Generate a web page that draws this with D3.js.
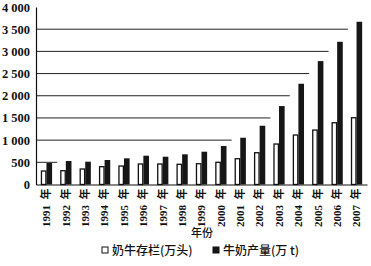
<!DOCTYPE html>
<html>
<head>
<meta charset="utf-8">
<script src="https://cdn.jsdelivr.net/npm/d3@7"></script>
<style>
  body { margin: 0; background: #fff; }
  text { fill: #111; }
</style>
</head>
<body>
<div id="container"></div>
<script>
let w = 371;
let h = 266;

// data
let years = ['1991', '1992', '1993', '1994', '1995', '1996', '1997', '1998', '1999',
             '2000', '2001', '2002', '2003', '2004', '2005', '2006', '2007'];
let cows = [304, 311, 349, 401, 416, 462, 462, 455, 468, 500, 581, 716, 912, 1115, 1227, 1392, 1505];
let milk = [484, 529, 514, 552, 590, 649, 626, 680, 739, 867, 1054, 1324, 1768, 2270, 2781, 3216, 3667];
let yTicks = [0, 500, 1000, 1500, 2000, 2500, 3000, 3500, 4000];
let tickLabels = ['0', '500', '1 000', '1 500', '2 000', '2 500', '3 000', '3 500', '4 000'];
let seriesNames = ['奶牛存栏(万头)', '牛奶产量(万 t)'];

let serif = '"Liberation Serif", "DejaVu Serif", "Noto Sans CJK SC", serif';
let cjk = '"Noto Sans CJK SC", sans-serif';

let xLeft = 36, xRight = 367, yTop = 7, yBottom = 184.5;

let viz = d3.select('#container')
  .append('svg')
    .attr('width', w)
    .attr('height', h)
    .style('background-color', 'white');

let x = d3.scaleBand().domain(years).range([xLeft, xRight]).paddingInner(0.42).paddingOuter(0.25);
let sub = d3.scaleBand().domain([0, 1]).range([0, x.bandwidth()]).padding(0);
let y = d3.scaleLinear().domain([0, 4000]).range([yBottom, yTop]);

// gridlines stop at the first group that rises above them
let grid = viz.append('g').classed('grid', true);
grid.selectAll('line').data(yTicks.filter(t => t > 0 && t < 4000)).enter().append('line')
  .attr('x1', xLeft)
  .attr('x2', function(t) {
    let i = milk.findIndex(v => v > t);
    return i < 0 ? xRight : x(years[i]) - 3;
  })
  .attr('y1', d => y(d))
  .attr('y2', d => y(d))
  .attr('stroke', '#222')
  .attr('stroke-width', 1);

// y axis
let yAxis = d3.axisLeft(y).tickValues(yTicks).tickSize(0).tickPadding(6)
  .tickFormat((d, i) => tickLabels[i]);
let yg = viz.append('g').attr('transform', 'translate(' + xLeft + ',0)').call(yAxis);
yg.attr('font-family', null);
yg.select('.domain').attr('stroke', '#111').attr('stroke-width', 1.2);
yg.selectAll('text')
  .style('font-family', serif)
  .style('font-size', '12.5px')
  .style('font-weight', 'bold')
  .attr('fill', '#111');

// bars
let groups = viz.append('g').classed('bars', true)
  .selectAll('g').data(years).enter().append('g')
  .attr('transform', d => 'translate(' + x(d) + ',0)');

groups.append('rect')
  .attr('x', sub(0) + 0.6)
  .attr('width', sub.bandwidth() - 1.2)
  .attr('y', (d, i) => y(cows[i]))
  .attr('height', (d, i) => yBottom - y(cows[i]))
  .attr('fill', 'white')
  .attr('stroke', '#111')
  .attr('stroke-width', 1.3);

groups.append('rect')
  .attr('x', sub(1))
  .attr('width', sub.bandwidth())
  .attr('y', (d, i) => y(milk[i]))
  .attr('height', (d, i) => yBottom - y(milk[i]))
  .attr('fill', '#161616');

// x axis
let xAxis = d3.axisBottom(x).tickSize(0).tickFormat(d => d + '  年');
let xg = viz.append('g').attr('transform', 'translate(0,' + yBottom + ')').call(xAxis);
xg.attr('font-family', null);
xg.select('.domain').attr('stroke', '#111').attr('stroke-width', 1.2);
xg.selectAll('text')
  .style('font-family', serif)
  .style('font-size', '11px')
  .style('font-weight', 'bold')
  .style('white-space', 'pre')
  .attr('fill', '#111')
  .attr('transform', 'rotate(-90)')
  .attr('text-anchor', 'end')
  .attr('x', -4)
  .attr('y', 0)
  .attr('dy', '0.35em');

viz.append('text')
  .attr('x', 202).attr('y', 237)
  .attr('text-anchor', 'middle')
  .style('font-family', cjk)
  .style('font-size', '11px')
  .style('font-weight', '500')
  .text('年份');

// legend
let legend = viz.append('g').classed('legend', true);
let legX = [102, 213];
legend.selectAll('rect').data(seriesNames).enter().append('rect')
  .attr('x', (d, i) => legX[i])
  .attr('y', 247)
  .attr('width', 6)
  .attr('height', 6)
  .attr('fill', (d, i) => i ? '#161616' : 'white')
  .attr('stroke', '#111')
  .attr('stroke-width', 1);
legend.selectAll('text').data(seriesNames).enter().append('text')
  .attr('x', (d, i) => legX[i] + 10)
  .attr('y', 254.5)
  .style('font-family', cjk)
  .style('font-size', '12px')
  .style('font-weight', '500')
  .text(d => d);
</script>
</body>
</html>
